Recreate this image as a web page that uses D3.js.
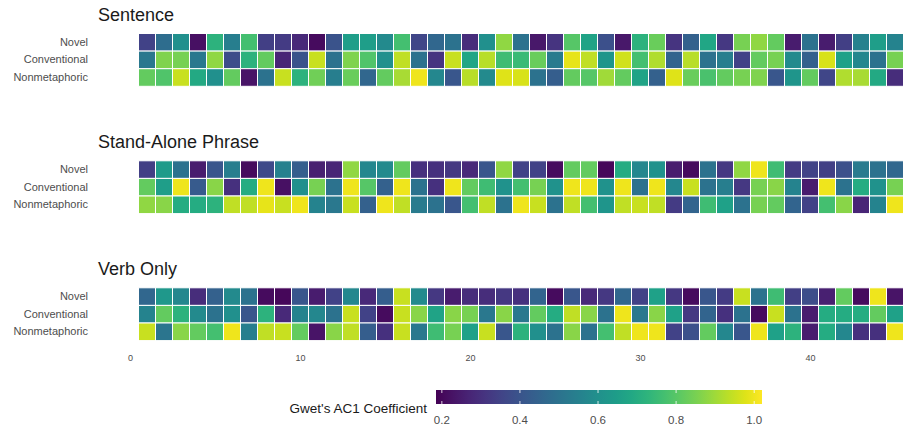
<!DOCTYPE html>
<html><head><meta charset="utf-8">
<script src="https://cdn.jsdelivr.net/npm/d3@7"></script>
<style>body{margin:0;background:#fff}svg{display:block;font-family:"Liberation Sans",Arial,sans-serif}</style>
</head><body><svg id="c" width="903" height="429"></svg>
<script>
const panels = ["Sentence", "Stand-Alone Phrase", "Verb Only"];
const rows = ["Novel", "Conventional", "Nonmetaphoric"];
const items = d3.range(1, 46);
const xTicks = [0, 10, 20, 30, 40];
const legendTicks = [0.2, 0.4, 0.6, 0.8, 1.0];
const legendTitle = "Gwet's AC1 Coefficient";

const sentenceNovel = [0.35,0.48,0.6,0.22,0.72,0.54,0.77,0.34,0.33,0.28,0.21,0.4,0.65,0.65,0.58,
0.77,0.36,0.46,0.5,0.29,0.6,0.88,0.5,0.24,0.31,0.8,0.67,0.39,0.24,0.72,
0.83,0.31,0.44,0.68,0.32,0.85,0.88,0.82,0.25,0.5,0.25,0.34,0.55,0.65,0.56];
const sentenceConventional = [0.52,0.86,0.85,0.52,0.88,0.38,0.72,0.82,0.27,0.4,0.95,0.5,0.86,0.79,0.6,
0.94,0.5,0.31,0.95,0.68,0.93,0.76,0.75,0.83,0.53,0.99,0.94,0.62,0.96,0.77,
0.92,0.45,0.93,0.5,0.54,0.35,0.82,0.85,0.58,0.44,0.97,0.66,0.57,0.5,0.85];
const sentenceNonmetaphoric = [0.82,0.79,0.95,0.69,0.6,0.82,0.23,0.5,0.95,0.72,0.84,0.54,0.83,0.46,0.82,
0.91,1.0,0.57,0.41,0.93,0.58,0.98,0.97,0.5,0.43,0.82,0.8,0.9,0.82,0.67,
0.44,0.98,0.83,0.78,0.82,0.85,0.86,0.41,0.62,0.82,0.36,0.92,0.91,0.69,0.29];

const phraseNovel = [0.34,0.64,0.5,0.25,0.41,0.54,0.21,0.37,0.55,0.43,0.26,0.27,0.88,0.57,0.58,
0.82,0.3,0.3,0.32,0.28,0.41,0.88,0.35,0.35,0.21,0.82,0.82,0.2,0.7,0.57,
0.61,0.25,0.21,0.5,0.32,0.88,1.0,0.76,0.33,0.35,0.34,0.39,0.53,0.5,0.46];
const phraseConventional = [0.82,0.65,1.0,0.42,0.87,0.3,0.7,1.0,0.22,0.6,0.85,0.5,1.0,0.8,0.44,
1.0,0.5,0.3,1.0,0.82,0.76,0.61,0.77,0.85,0.61,1.0,1.0,0.61,1.0,0.5,
1.0,0.57,0.95,0.5,0.54,0.32,0.85,0.87,0.56,0.25,1.0,0.5,0.7,0.61,0.85];
const phraseNonmetaphoric = [0.88,0.87,0.7,0.7,0.72,0.94,0.94,0.99,0.95,1.0,0.56,0.52,0.95,0.44,1.0,
0.94,0.53,0.5,0.41,0.77,0.94,0.5,1.0,0.95,0.5,0.94,0.77,0.62,0.94,0.95,
0.94,0.33,0.45,0.76,0.66,0.5,0.85,0.82,0.45,0.35,0.77,0.87,0.27,0.56,1.0];

const verbNovel = [0.46,0.63,0.57,0.29,0.44,0.58,0.5,0.21,0.2,0.41,0.25,0.35,0.57,0.28,0.43,
0.95,0.58,0.32,0.25,0.29,0.29,0.32,0.3,0.45,0.21,0.41,0.28,0.32,0.46,0.35,
0.66,0.32,0.21,0.41,0.33,0.95,0.5,0.76,0.34,0.38,0.26,0.82,0.21,1.0,0.23];
const verbConventional = [0.56,0.82,0.72,0.58,0.5,0.6,0.41,0.72,0.28,0.56,0.57,0.5,0.95,0.35,0.21,
0.95,0.87,0.67,0.87,0.85,0.52,0.87,0.52,0.82,0.7,0.94,0.87,0.5,1.0,0.52,
0.87,0.66,0.32,0.45,0.3,0.5,0.21,0.95,0.5,0.25,0.7,0.7,0.7,0.82,0.66];
const verbNonmetaphoric = [0.95,0.51,0.87,0.82,0.77,1.0,0.54,0.94,0.95,0.82,0.23,0.87,0.94,0.43,0.3,
0.95,0.52,0.76,0.85,0.66,0.95,0.41,0.72,0.6,0.5,0.87,0.5,0.77,0.94,1.0,
1.0,0.35,0.39,0.82,0.57,0.41,1.0,0.66,0.72,0.25,0.7,0.57,0.3,0.3,1.0];

const panelData = [
  [sentenceNovel, sentenceConventional, sentenceNonmetaphoric],
  [phraseNovel, phraseConventional, phraseNonmetaphoric],
  [verbNovel, verbConventional, verbNonmetaphoric]
];

const svg = d3.select("#c");
const x = d3.scaleLinear().domain([0, 10]).range([130, 300]);
const color = d3.scaleSequential(d3.interpolateViridis).domain([0.185, 1.02]);
const panelTop = [33.5, 160.8, 287.8];
const panelH = 52.8;

panels.forEach((name, p) => {
  const y = d3.scaleBand().domain(rows).range([panelTop[p], panelTop[p] + panelH]);
  const g = svg.append("g");
  g.append("text").attr("x", 98).attr("y", panelTop[p] - 13)
    .attr("font-size", 18).attr("fill", "#1a1a1a").text(name);
  const cells = [];
  rows.forEach((r, ri) => items.forEach((it, i) => cells.push({row: r, item: it, v: panelData[p][ri][i]})));
  g.selectAll("rect").data(cells).join("rect")
    .attr("x", d => x(d.item - 0.5)).attr("width", d => x(d.item + 0.5) - x(d.item - 0.5))
    .attr("y", d => y(d.row)).attr("height", y.bandwidth())
    .attr("fill", d => color(d.v)).attr("stroke", "#fff").attr("stroke-width", 1);
  const ay = d3.axisLeft(y).tickSize(0).tickPadding(0);
  const axg = g.append("g").attr("transform", "translate(88,0)").call(ay);
  axg.select(".domain").remove();
  axg.selectAll("text").attr("font-size", 11).attr("fill", "#4d4d4d").attr("font-family", "Liberation Sans, Arial, sans-serif");
});

const ax = svg.append("g").attr("transform", "translate(0,355)")
  .call(d3.axisBottom(x).tickValues(xTicks).tickSize(0).tickPadding(0));
ax.select(".domain").remove();
ax.selectAll("text").attr("font-size", 9).attr("fill", "#4d4d4d").attr("font-family", "Liberation Sans, Arial, sans-serif");

// legend
const lx = d3.scaleLinear().domain([0.185, 1.02]).range([436, 762]);
const defs = svg.append("defs");
const grad = defs.append("linearGradient").attr("id", "vg");
d3.range(0, 1.0001, 0.05).forEach(t => grad.append("stop").attr("offset", t).attr("stop-color", d3.interpolateViridis(t)));
svg.append("rect").attr("x", 436).attr("y", 390).attr("width", 326).attr("height", 14).attr("fill", "url(#vg)");
const lt = svg.append("g");
legendTicks.forEach(v => {
  lt.append("line").attr("x1", lx(v)).attr("x2", lx(v)).attr("y1", 390).attr("y2", 393).attr("stroke", "#fff").attr("stroke-width", 0.8);
  lt.append("line").attr("x1", lx(v)).attr("x2", lx(v)).attr("y1", 401).attr("y2", 404).attr("stroke", "#fff").attr("stroke-width", 0.8);
  lt.append("text").attr("x", lx(v)).attr("y", 424).attr("text-anchor", "middle")
    .attr("font-size", 11.5).attr("fill", "#4d4d4d").text(d3.format(".1f")(v));
});
svg.append("text").attr("x", 427).attr("y", 413).attr("text-anchor", "end")
  .attr("font-size", 13.5).attr("fill", "#1a1a1a").text(legendTitle);
</script></body></html>
